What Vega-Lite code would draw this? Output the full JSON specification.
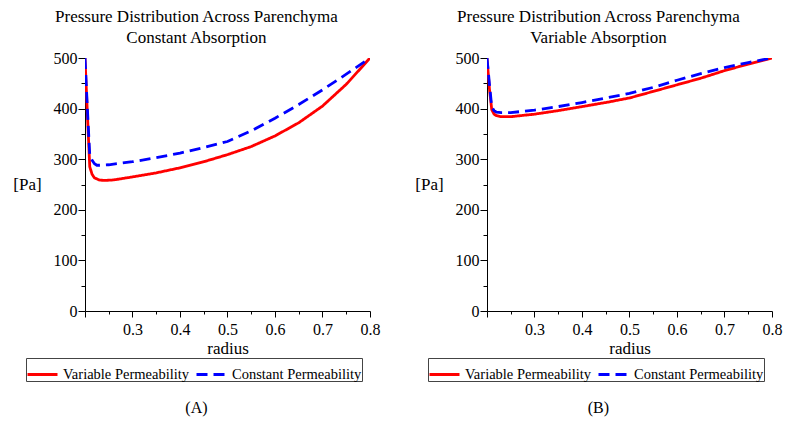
{
  "$schema": "https://vega.github.io/schema/vega-lite/v6.json",
  "background": "white",
  "padding": {"left": 12, "top": 8, "right": 5, "bottom": 5},
  "config": {
    "font": "Liberation Serif",
    "view": {"stroke": null},
    "concat": {"spacing": 34},
    "title": {"font": "Liberation Serif", "fontWeight": "normal", "fontSize": 17, "color": "black"},
    "axis": {
      "labelFont": "Liberation Serif", "titleFont": "Liberation Serif",
      "labelFontSize": 16, "titleFontSize": 17, "titleFontWeight": "normal",
      "labelColor": "black", "titleColor": "black",
      "domainColor": "black", "tickColor": "black", "grid": false
    },
    "legend": {"labelFont": "Liberation Serif", "labelFontSize": 14.5, "labelColor": "black"}
  },
  "datasets": {
    "constAbs": [
      {"radius": 0.2, "pressure": 500, "series": "Variable Permeability"},
      {"radius": 0.205, "pressure": 390, "series": "Variable Permeability"},
      {"radius": 0.21, "pressure": 285, "series": "Variable Permeability"},
      {"radius": 0.215, "pressure": 270, "series": "Variable Permeability"},
      {"radius": 0.22, "pressure": 263, "series": "Variable Permeability"},
      {"radius": 0.23, "pressure": 259, "series": "Variable Permeability"},
      {"radius": 0.24, "pressure": 258, "series": "Variable Permeability"},
      {"radius": 0.26, "pressure": 259, "series": "Variable Permeability"},
      {"radius": 0.3, "pressure": 265, "series": "Variable Permeability"},
      {"radius": 0.35, "pressure": 273, "series": "Variable Permeability"},
      {"radius": 0.4, "pressure": 283, "series": "Variable Permeability"},
      {"radius": 0.45, "pressure": 295, "series": "Variable Permeability"},
      {"radius": 0.5, "pressure": 309, "series": "Variable Permeability"},
      {"radius": 0.55, "pressure": 325, "series": "Variable Permeability"},
      {"radius": 0.6, "pressure": 346, "series": "Variable Permeability"},
      {"radius": 0.65, "pressure": 372, "series": "Variable Permeability"},
      {"radius": 0.7, "pressure": 405, "series": "Variable Permeability"},
      {"radius": 0.75, "pressure": 448, "series": "Variable Permeability"},
      {"radius": 0.8, "pressure": 500, "series": "Variable Permeability"},
      {"radius": 0.2, "pressure": 500, "series": "Constant Permeability"},
      {"radius": 0.205, "pressure": 400, "series": "Constant Permeability"},
      {"radius": 0.21, "pressure": 308, "series": "Constant Permeability"},
      {"radius": 0.215, "pressure": 298, "series": "Constant Permeability"},
      {"radius": 0.22, "pressure": 291, "series": "Constant Permeability"},
      {"radius": 0.225, "pressure": 288, "series": "Constant Permeability"},
      {"radius": 0.23, "pressure": 288, "series": "Constant Permeability"},
      {"radius": 0.25, "pressure": 289, "series": "Constant Permeability"},
      {"radius": 0.3, "pressure": 295, "series": "Constant Permeability"},
      {"radius": 0.35, "pressure": 303, "series": "Constant Permeability"},
      {"radius": 0.4, "pressure": 312, "series": "Constant Permeability"},
      {"radius": 0.45, "pressure": 323, "series": "Constant Permeability"},
      {"radius": 0.5, "pressure": 335, "series": "Constant Permeability"},
      {"radius": 0.55, "pressure": 356, "series": "Constant Permeability"},
      {"radius": 0.6, "pressure": 381, "series": "Constant Permeability"},
      {"radius": 0.65, "pressure": 408, "series": "Constant Permeability"},
      {"radius": 0.7, "pressure": 437, "series": "Constant Permeability"},
      {"radius": 0.75, "pressure": 468, "series": "Constant Permeability"},
      {"radius": 0.8, "pressure": 500, "series": "Constant Permeability"}
    ],
    "varAbs": [
      {"radius": 0.2, "pressure": 500, "series": "Variable Permeability"},
      {"radius": 0.205, "pressure": 440, "series": "Variable Permeability"},
      {"radius": 0.21, "pressure": 398, "series": "Variable Permeability"},
      {"radius": 0.215, "pressure": 389, "series": "Variable Permeability"},
      {"radius": 0.22, "pressure": 386, "series": "Variable Permeability"},
      {"radius": 0.23, "pressure": 384, "series": "Variable Permeability"},
      {"radius": 0.25, "pressure": 384, "series": "Variable Permeability"},
      {"radius": 0.3, "pressure": 389, "series": "Variable Permeability"},
      {"radius": 0.35, "pressure": 396, "series": "Variable Permeability"},
      {"radius": 0.4, "pressure": 404, "series": "Variable Permeability"},
      {"radius": 0.45, "pressure": 412, "series": "Variable Permeability"},
      {"radius": 0.5, "pressure": 421, "series": "Variable Permeability"},
      {"radius": 0.55, "pressure": 434, "series": "Variable Permeability"},
      {"radius": 0.6, "pressure": 447, "series": "Variable Permeability"},
      {"radius": 0.65, "pressure": 460, "series": "Variable Permeability"},
      {"radius": 0.7, "pressure": 475, "series": "Variable Permeability"},
      {"radius": 0.75, "pressure": 488, "series": "Variable Permeability"},
      {"radius": 0.8, "pressure": 500, "series": "Variable Permeability"},
      {"radius": 0.2, "pressure": 500, "series": "Constant Permeability"},
      {"radius": 0.205, "pressure": 450, "series": "Constant Permeability"},
      {"radius": 0.21, "pressure": 403, "series": "Constant Permeability"},
      {"radius": 0.215, "pressure": 396, "series": "Constant Permeability"},
      {"radius": 0.22, "pressure": 393, "series": "Constant Permeability"},
      {"radius": 0.23, "pressure": 392, "series": "Constant Permeability"},
      {"radius": 0.25, "pressure": 392, "series": "Constant Permeability"},
      {"radius": 0.3, "pressure": 397, "series": "Constant Permeability"},
      {"radius": 0.35, "pressure": 404, "series": "Constant Permeability"},
      {"radius": 0.4, "pressure": 412, "series": "Constant Permeability"},
      {"radius": 0.45, "pressure": 421, "series": "Constant Permeability"},
      {"radius": 0.5, "pressure": 430, "series": "Constant Permeability"},
      {"radius": 0.55, "pressure": 442, "series": "Constant Permeability"},
      {"radius": 0.6, "pressure": 456, "series": "Constant Permeability"},
      {"radius": 0.65, "pressure": 469, "series": "Constant Permeability"},
      {"radius": 0.7, "pressure": 481, "series": "Constant Permeability"},
      {"radius": 0.75, "pressure": 491, "series": "Constant Permeability"},
      {"radius": 0.8, "pressure": 500, "series": "Constant Permeability"}
    ]
  },
  "resolve": {"legend": {"color": "independent", "strokeDash": "independent"}},
  "hconcat": [
    {
      "title": {"text": "(A)", "orient": "bottom", "anchor": "middle", "fontSize": 16, "frame": "bounds", "offset": 18},
      "resolve": {"legend": {"color": "independent", "strokeDash": "independent"}},
      "vconcat": [
        {
          "title": {"text": ["Pressure Distribution Across Parenchyma", "Constant Absorption"], "anchor": "middle", "frame": "bounds", "offset": 3, "lineHeight": 21},
          "width": 285,
          "height": 253,
          "data": {"name": "constAbs"},
          "mark": {"type": "line", "strokeWidth": 2.8, "clip": true},
          "encoding": {
            "x": {"field": "radius", "type": "quantitative", "scale": {"domain": [0.2, 0.8], "nice": false, "zero": false},
              "axis": {"title": "radius", "values": [0.2, 0.25, 0.3, 0.35, 0.4, 0.45, 0.5, 0.55, 0.6, 0.65, 0.7, 0.75, 0.8],
                "labelExpr": "round(datum.value*100) % 10 === 0 && datum.value > 0.25 ? format(datum.value, '.1f') : ''",
                "tickSize": {"condition": {"test": "round(datum.value*100) % 10 === 0", "value": 6}, "value": 3},
                "labelPadding": 4, "titlePadding": 3, "labelFlush": false}},
            "y": {"field": "pressure", "type": "quantitative", "scale": {"domain": [0, 500], "nice": false},
              "axis": {"title": "[Pa]", "titleAngle": 0, "titleAlign": "center", "titleBaseline": "middle", "titleX": -58, "titleY": 126,
                "values": [0, 50, 100, 150, 200, 250, 300, 350, 400, 450, 500],
                "labelExpr": "datum.value % 100 === 0 ? datum.label : ''",
                "tickSize": {"condition": {"test": "datum.value % 100 === 0", "value": 7}, "value": 4},
                "labelPadding": 1}},
            "color": {"field": "series", "type": "nominal",
              "scale": {"domain": ["Variable Permeability", "Constant Permeability"], "range": ["#ff0000", "#0000ff"]},
              "legend": {"orient": "none", "legendX": -59, "legendY": 300, "direction": "horizontal", "title": null,
                "symbolType": "stroke", "symbolSize": 900, "symbolStrokeWidth": 3, "strokeColor": "#444", "padding": 0,
                "columnPadding": 0, "labelOffset": 4}},
            "strokeDash": {"field": "series", "type": "nominal",
              "scale": {"domain": ["Variable Permeability", "Constant Permeability"], "range": [[1, 0], [11, 6]]},
              "legend": {"orient": "none", "legendX": -59, "legendY": 300, "direction": "horizontal", "title": null,
                "symbolType": "stroke", "symbolSize": 900, "symbolStrokeWidth": 3, "strokeColor": "#444", "padding": 0,
                "columnPadding": 0, "labelOffset": 4}}
          }
        }
      ]
    },
    {
      "title": {"text": "(B)", "orient": "bottom", "anchor": "middle", "fontSize": 16, "frame": "bounds", "offset": 18},
      "resolve": {"legend": {"color": "independent", "strokeDash": "independent"}},
      "vconcat": [
        {
          "title": {"text": ["Pressure Distribution Across Parenchyma", "Variable Absorption"], "anchor": "middle", "frame": "bounds", "offset": 3, "lineHeight": 21},
          "width": 285,
          "height": 253,
          "data": {"name": "varAbs"},
          "mark": {"type": "line", "strokeWidth": 2.8, "clip": true},
          "encoding": {
            "x": {"field": "radius", "type": "quantitative", "scale": {"domain": [0.2, 0.8], "nice": false, "zero": false},
              "axis": {"title": "radius", "values": [0.2, 0.25, 0.3, 0.35, 0.4, 0.45, 0.5, 0.55, 0.6, 0.65, 0.7, 0.75, 0.8],
                "labelExpr": "round(datum.value*100) % 10 === 0 && datum.value > 0.25 ? format(datum.value, '.1f') : ''",
                "tickSize": {"condition": {"test": "round(datum.value*100) % 10 === 0", "value": 6}, "value": 3},
                "labelPadding": 4, "titlePadding": 3, "labelFlush": false}},
            "y": {"field": "pressure", "type": "quantitative", "scale": {"domain": [0, 500], "nice": false},
              "axis": {"title": "[Pa]", "titleAngle": 0, "titleAlign": "center", "titleBaseline": "middle", "titleX": -58, "titleY": 126,
                "values": [0, 50, 100, 150, 200, 250, 300, 350, 400, 450, 500],
                "labelExpr": "datum.value % 100 === 0 ? datum.label : ''",
                "tickSize": {"condition": {"test": "datum.value % 100 === 0", "value": 7}, "value": 4},
                "labelPadding": 1}},
            "color": {"field": "series", "type": "nominal",
              "scale": {"domain": ["Variable Permeability", "Constant Permeability"], "range": ["#ff0000", "#0000ff"]},
              "legend": {"orient": "none", "legendX": -59, "legendY": 300, "direction": "horizontal", "title": null,
                "symbolType": "stroke", "symbolSize": 900, "symbolStrokeWidth": 3, "strokeColor": "#444", "padding": 0,
                "columnPadding": 0, "labelOffset": 4}},
            "strokeDash": {"field": "series", "type": "nominal",
              "scale": {"domain": ["Variable Permeability", "Constant Permeability"], "range": [[1, 0], [11, 6]]},
              "legend": {"orient": "none", "legendX": -59, "legendY": 300, "direction": "horizontal", "title": null,
                "symbolType": "stroke", "symbolSize": 900, "symbolStrokeWidth": 3, "strokeColor": "#444", "padding": 0,
                "columnPadding": 0, "labelOffset": 4}}
          }
        }
      ]
    }
  ]
}
